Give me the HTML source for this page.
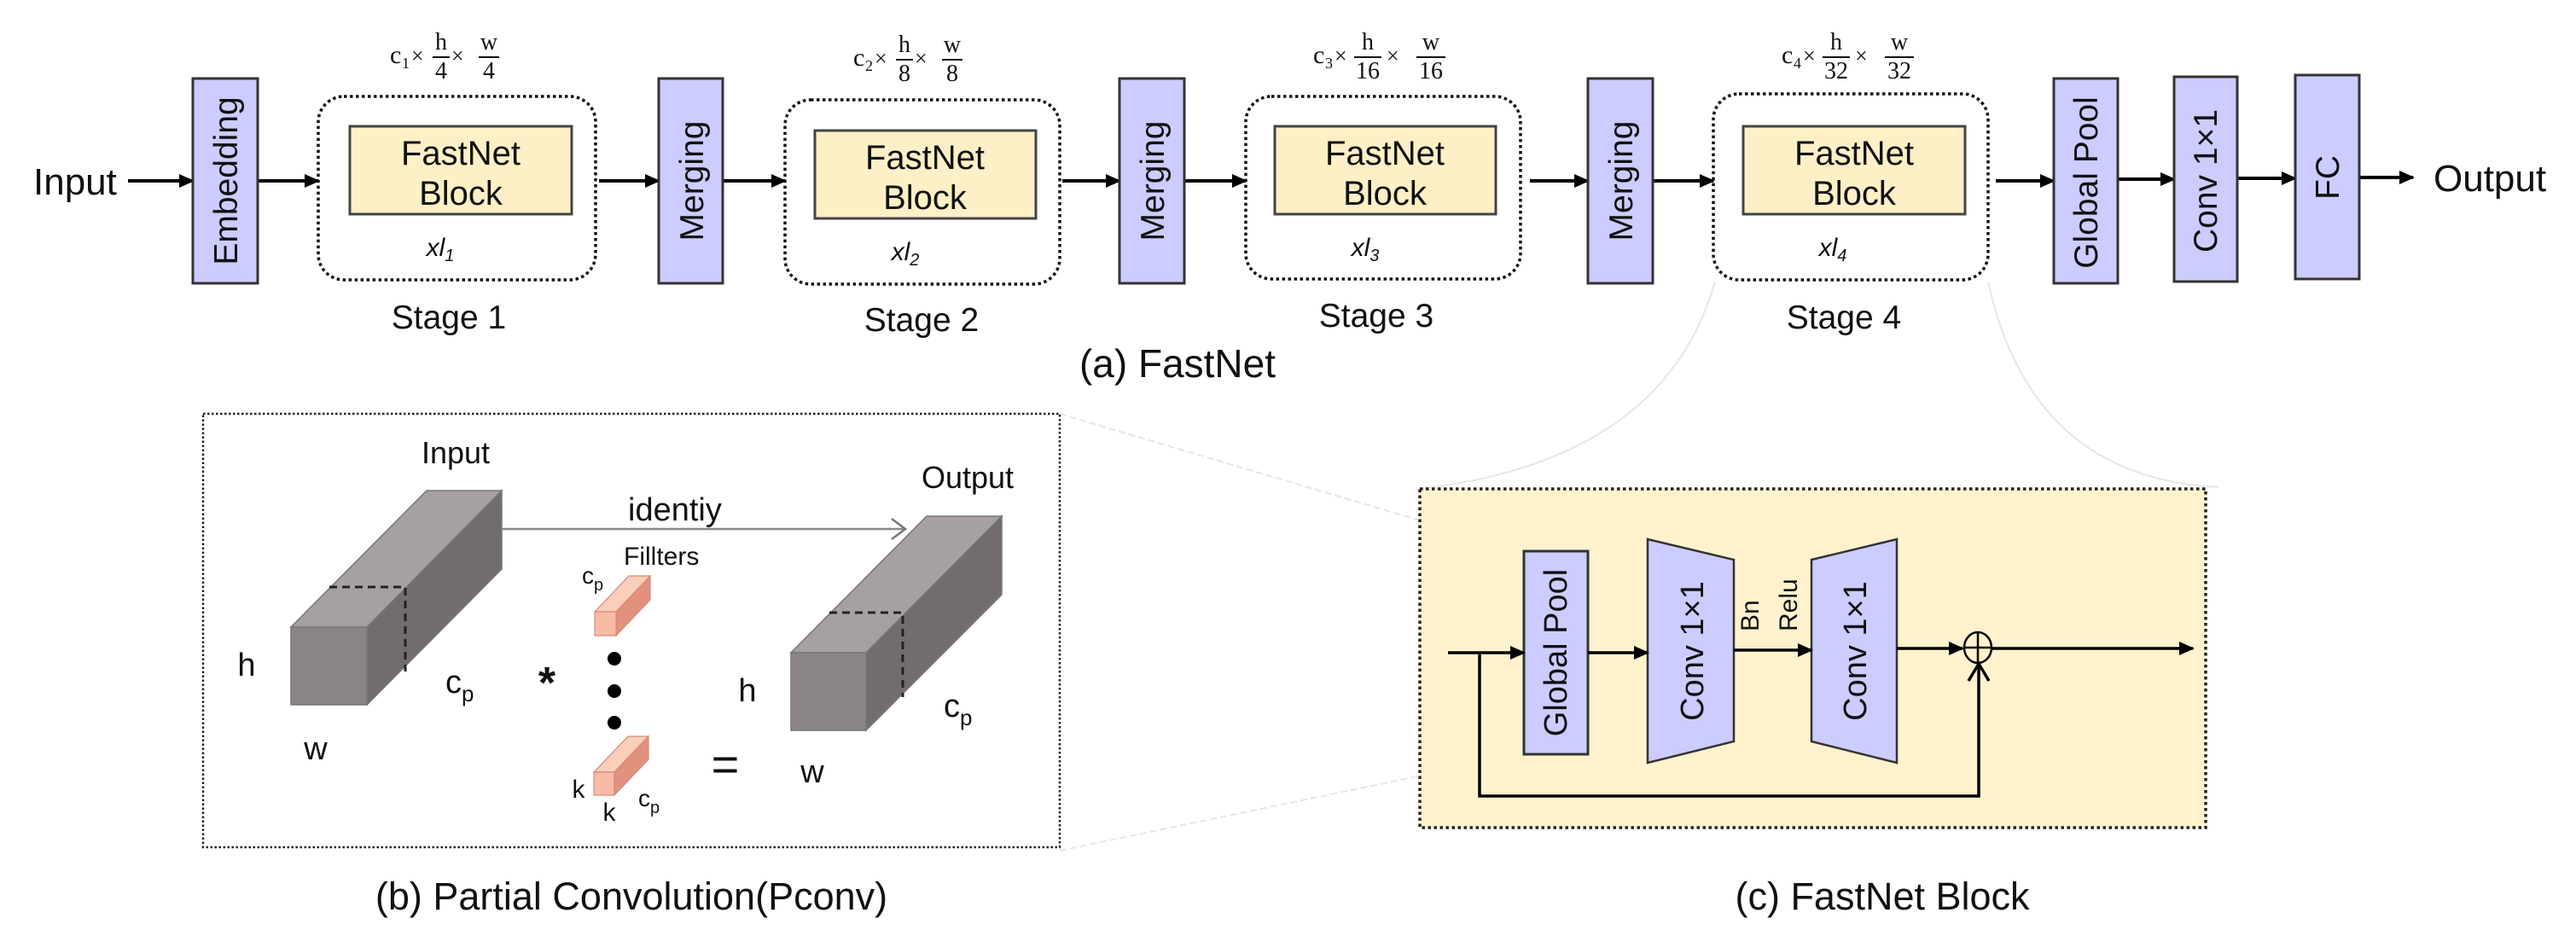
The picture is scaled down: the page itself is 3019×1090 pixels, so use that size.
<!DOCTYPE html>
<html><head><meta charset="utf-8"><style>
html,body{margin:0;padding:0;background:#fff;}
svg{display:block;}
text{font-family:"Liberation Sans",Arial,sans-serif;fill:#111;}
.serif text{font-family:"Liberation Serif",serif;}
</style></head><body>
<svg width="3019" height="1090" viewBox="0 0 3019 1090" xmlns="http://www.w3.org/2000/svg">
<defs>
<marker id="ahb" markerWidth="18" markerHeight="18" refX="16" refY="9" orient="auto" markerUnits="userSpaceOnUse" viewBox="0 0 18 18">
<path d="M0,1 L18,9 L0,17 z" fill="#000"/></marker>
</defs>

<g fill="none" stroke="#e6e6e6" stroke-width="2">
<path d="M2010,330 Q1950,540 1664,573"/>
<path d="M2330,330 Q2380,560 2600,571"/>
<path d="M1242,485 L1786,646" stroke-dasharray="8 4"/>
<path d="M1242,997 L1786,884" stroke-dasharray="8 4"/>
</g>

<text x="39" y="228" font-size="44">Input</text>
<g stroke="#000" stroke-width="4" marker-end="url(#ahb)">
<line x1="150" y1="212" x2="226" y2="212"/>
<line x1="302" y1="212" x2="373" y2="212"/>
<line x1="702" y1="212" x2="772" y2="212"/>
<line x1="847" y1="212" x2="920" y2="212"/>
<line x1="1245" y1="212" x2="1312" y2="212"/>
<line x1="1388" y1="212" x2="1460" y2="212"/>
<line x1="1793" y1="212" x2="1861" y2="212"/>
<line x1="1937" y1="212" x2="2008" y2="212"/>
<line x1="2339" y1="212" x2="2407" y2="212"/>
<line x1="2482" y1="210" x2="2548" y2="210"/>
<line x1="2622" y1="209" x2="2690" y2="209"/>
<line x1="2765" y1="208" x2="2828" y2="208"/>
</g>
<text x="2852" y="224" font-size="44">Output</text>

<g fill="#ccccff" stroke="#333" stroke-width="3">
<rect x="226" y="92" width="76" height="240"/>
<rect x="772" y="92" width="75" height="240"/>
<rect x="1312" y="92" width="76" height="240"/>
<rect x="1861" y="92" width="76" height="240"/>
<rect x="2407" y="92" width="75" height="240"/>
<rect x="2548" y="90" width="74" height="240"/>
<rect x="2690" y="88" width="75" height="239"/>
</g>
<g font-size="39">
<text transform="translate(278,212) rotate(-90)" text-anchor="middle">Embedding</text>
<text transform="translate(824,212) rotate(-90)" text-anchor="middle">Merging</text>
<text transform="translate(1364,212) rotate(-90)" text-anchor="middle">Merging</text>
<text transform="translate(1913,212) rotate(-90)" text-anchor="middle">Merging</text>
<text transform="translate(2458,214) rotate(-90)" text-anchor="middle">Global Pool</text>
<text transform="translate(2598,212) rotate(-90)" text-anchor="middle">Conv 1×1</text>
<text transform="translate(2741,208) rotate(-90)" text-anchor="middle">FC</text>
</g>

<g fill="none" stroke="#111" stroke-width="3.5" stroke-dasharray="3.5 3.5">
<rect x="373" y="113" width="325" height="215" rx="30"/>
<rect x="920" y="117" width="322" height="216" rx="30"/>
<rect x="1460" y="113" width="322" height="214" rx="30"/>
<rect x="2008" y="110" width="322" height="218" rx="30"/>
</g>
<g fill="#fdf0c6" stroke="#444" stroke-width="3">
<rect x="410" y="148" width="260" height="103"/>
<rect x="955" y="153" width="259" height="103"/>
<rect x="1494" y="148" width="259" height="103"/>
<rect x="2043" y="148" width="260" height="103"/>
</g>
<g font-size="40" text-anchor="middle">
<text x="540" y="193">FastNet</text><text x="540" y="240">Block</text>
<text x="1084" y="198">FastNet</text><text x="1084" y="245">Block</text>
<text x="1623" y="193">FastNet</text><text x="1623" y="240">Block</text>
<text x="2173" y="193">FastNet</text><text x="2173" y="240">Block</text>
</g>
<g font-size="30" font-style="italic" text-anchor="middle">
<text x="516" y="300">xl<tspan font-size="20" dy="6">1</tspan></text>
<text x="1061" y="305">xl<tspan font-size="20" dy="6">2</tspan></text>
<text x="1600" y="300">xl<tspan font-size="20" dy="6">3</tspan></text>
<text x="2148" y="300">xl<tspan font-size="20" dy="6">4</tspan></text>
</g>
<g font-size="39" text-anchor="middle">
<text x="526" y="385">Stage 1</text>
<text x="1080" y="388">Stage 2</text>
<text x="1613" y="383">Stage 3</text>
<text x="2161" y="385">Stage 4</text>
</g>
<text x="1380" y="442" font-size="46" text-anchor="middle">(a) FastNet</text>

<g class="serif" font-size="28">
 <g transform="translate(457,0)">
  <text x="0" y="74" font-size="30">c</text><text x="14" y="80" font-size="18">1</text>
  <text x="25" y="74" font-size="26">×</text>
  <text x="60" y="58" text-anchor="middle">h</text><line x1="50" y1="67" x2="70" y2="67" stroke="#111" stroke-width="2"/><text x="60" y="92" text-anchor="middle">4</text>
  <text x="72" y="74" font-size="26">×</text>
  <text x="116" y="58" text-anchor="middle">w</text><line x1="104" y1="67" x2="128" y2="67" stroke="#111" stroke-width="2"/><text x="116" y="92" text-anchor="middle">4</text>
 </g>
 <g transform="translate(1000,3)">
  <text x="0" y="74" font-size="30">c</text><text x="14" y="80" font-size="18">2</text>
  <text x="25" y="74" font-size="26">×</text>
  <text x="60" y="58" text-anchor="middle">h</text><line x1="50" y1="67" x2="70" y2="67" stroke="#111" stroke-width="2"/><text x="60" y="92" text-anchor="middle">8</text>
  <text x="72" y="74" font-size="26">×</text>
  <text x="116" y="58" text-anchor="middle">w</text><line x1="104" y1="67" x2="128" y2="67" stroke="#111" stroke-width="2"/><text x="116" y="92" text-anchor="middle">8</text>
 </g>
 <g transform="translate(1539,0)">
  <text x="0" y="74" font-size="30">c</text><text x="14" y="80" font-size="18">3</text>
  <text x="25" y="74" font-size="26">×</text>
  <text x="64" y="58" text-anchor="middle">h</text><line x1="48" y1="67" x2="80" y2="67" stroke="#111" stroke-width="2"/><text x="64" y="92" text-anchor="middle">16</text>
  <text x="86" y="74" font-size="26">×</text>
  <text x="138" y="58" text-anchor="middle">w</text><line x1="121" y1="67" x2="155" y2="67" stroke="#111" stroke-width="2"/><text x="138" y="92" text-anchor="middle">16</text>
 </g>
 <g transform="translate(2088,0)">
  <text x="0" y="74" font-size="30">c</text><text x="14" y="80" font-size="18">4</text>
  <text x="25" y="74" font-size="26">×</text>
  <text x="64" y="58" text-anchor="middle">h</text><line x1="48" y1="67" x2="80" y2="67" stroke="#111" stroke-width="2"/><text x="64" y="92" text-anchor="middle">32</text>
  <text x="86" y="74" font-size="26">×</text>
  <text x="138" y="58" text-anchor="middle">w</text><line x1="121" y1="67" x2="155" y2="67" stroke="#111" stroke-width="2"/><text x="138" y="92" text-anchor="middle">32</text>
 </g>
</g>

<rect x="238" y="485" width="1004" height="508" fill="none" stroke="#222" stroke-width="2.5" stroke-dasharray="2.5 2.5"/>
<g stroke="#777" stroke-width="1.5">
<polygon points="341,735 430,735 588,575 500,575" fill="#a6a1a0"/>
<polygon points="430,735 588,575 588,667 430,826" fill="#726d6c"/>
<rect x="341" y="735" width="89" height="91" fill="#8b8685"/>
</g>
<path d="M386,688 L475,688 L475,787" fill="none" stroke="#222" stroke-width="3" stroke-dasharray="9 6"/>
<text x="534" y="543" font-size="36" text-anchor="middle">Input</text>
<text x="289" y="792" font-size="38" text-anchor="middle">h</text>
<text x="370" y="890" font-size="38" text-anchor="middle">w</text>
<text x="522" y="812" font-size="38">c<tspan font-size="26" dy="10">p</tspan></text>
<text x="641" y="818" font-size="52" font-weight="bold" text-anchor="middle">*</text>
<line x1="588" y1="620" x2="1060" y2="620" stroke="#888" stroke-width="2.5"/>
<path d="M1045,608 L1061,620 L1045,632" fill="none" stroke="#777" stroke-width="2.5"/>
<text x="736" y="610" font-size="38">identiy</text>
<text x="731" y="662" font-size="30">Fillters</text>
<text x="682" y="684" font-size="28">c<tspan font-size="20" dy="8">p</tspan></text>
<g stroke="#d58a78" stroke-width="1.2">
<polygon points="697,717 722,717 762,675 737,675" fill="#fbcdbb"/>
<polygon points="722,717 762,675 762,703 722,745" fill="#e2917e"/>
<rect x="697" y="717" width="25" height="28" fill="#f9bba6"/>
<polygon points="696,905 720,905 760,863 736,863" fill="#fbcdbb"/>
<polygon points="720,905 760,863 760,890 720,932" fill="#e2917e"/>
<rect x="696" y="905" width="24" height="27" fill="#f9bba6"/>
</g>
<circle cx="720" cy="772" r="8" fill="#000"/>
<circle cx="720" cy="810" r="8" fill="#000"/>
<circle cx="720" cy="847" r="8" fill="#000"/>
<text x="678" y="935" font-size="30" text-anchor="middle">k</text>
<text x="714" y="962" font-size="30" text-anchor="middle">k</text>
<text x="748" y="945" font-size="28">c<tspan font-size="20" dy="8">p</tspan></text>
<text x="850" y="915" font-size="56" text-anchor="middle">=</text>
<g stroke="#777" stroke-width="1.5">
<polygon points="927,765 1015,765 1174,605 1086,605" fill="#a6a1a0"/>
<polygon points="1015,765 1174,605 1174,697 1015,856" fill="#726d6c"/>
<rect x="927" y="765" width="88" height="91" fill="#8b8685"/>
</g>
<path d="M972,718 L1058,718 L1058,817" fill="none" stroke="#222" stroke-width="3" stroke-dasharray="9 6"/>
<text x="1134" y="572" font-size="36" text-anchor="middle">Output</text>
<text x="876" y="822" font-size="38" text-anchor="middle">h</text>
<text x="952" y="917" font-size="38" text-anchor="middle">w</text>
<text x="1106" y="840" font-size="38">c<tspan font-size="26" dy="10">p</tspan></text>
<text x="740" y="1066" font-size="45" text-anchor="middle">(b) Partial Convolution(Pconv)</text>

<rect x="1664" y="573" width="921" height="397" fill="#fff2cc" stroke="#222" stroke-width="3.5" stroke-dasharray="3.5 3.5"/>
<rect x="1786" y="646" width="75" height="238" fill="#ccccff" stroke="#333" stroke-width="3"/>
<text transform="translate(1836,765) rotate(-90)" font-size="38" text-anchor="middle">Global Pool</text>
<polygon points="1931,632 2032,656 2032,869 1931,894" fill="#ccccff" stroke="#333" stroke-width="2.5"/>
<polygon points="2123,656 2223,632 2223,894 2123,869" fill="#ccccff" stroke="#333" stroke-width="2.5"/>
<text transform="translate(1996,763) rotate(-90)" font-size="38" text-anchor="middle">Conv 1×1</text>
<text transform="translate(2187,763) rotate(-90)" font-size="38" text-anchor="middle">Conv 1×1</text>
<text transform="translate(2061,740) rotate(-90)" font-size="30">Bn</text>
<text transform="translate(2106,740) rotate(-90)" font-size="30">Relu</text>
<g stroke="#000" stroke-width="3.5" fill="none">
<line x1="1697" y1="765" x2="1786" y2="765" marker-end="url(#ahb)"/>
<line x1="1861" y1="765" x2="1931" y2="765" marker-end="url(#ahb)"/>
<line x1="2032" y1="762" x2="2123" y2="762" marker-end="url(#ahb)"/>
<line x1="2223" y1="760" x2="2300" y2="760" marker-end="url(#ahb)"/>
<line x1="2335" y1="760" x2="2570" y2="760" marker-end="url(#ahb)"/>
<polyline points="1734,765 1734,933 2319,933 2319,780"/>
<path d="M2307,798 L2319,778 L2331,798"/>
</g>
<g stroke="#000" stroke-width="2.5" fill="none">
<ellipse cx="2318" cy="759" rx="16" ry="18"/>
<line x1="2302" y1="759" x2="2334" y2="759"/>
<line x1="2318" y1="741" x2="2318" y2="777"/>
</g>
<text x="2206" y="1066" font-size="45" text-anchor="middle">(c) FastNet Block</text>
</svg>
</body></html>
